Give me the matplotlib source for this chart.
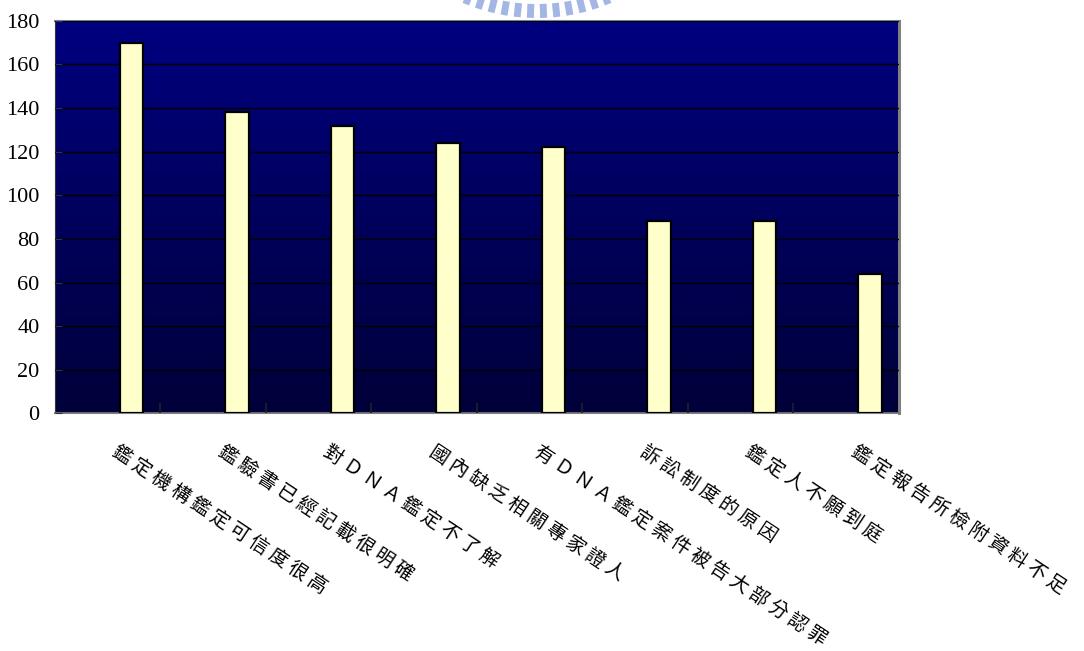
import numpy as np
import matplotlib
matplotlib.use("Agg")
import matplotlib.pyplot as plt
from matplotlib.colors import LinearSegmentedColormap
from matplotlib.transforms import blended_transform_factory
from matplotlib.lines import Line2D

categories = [
    "鑑定機構鑑定可信度很高",
    "鑑驗書已經記載很明確",
    "對ＤＮＡ鑑定不了解",
    "國內缺乏相關專家證人",
    "有ＤＮＡ鑑定案件被告大部分認罪",
    "訴訟制度的原因",
    "鑑定人不願到庭",
    "鑑定報告所檢附資料不足",
]
counts = [170, 138, 132, 124, 122, 88, 88, 64]
y_ticks = [0, 20, 40, 60, 80, 100, 120, 140, 160, 180]

fig = plt.figure(figsize=(10.84, 6.51), dpi=100)
ax = fig.add_axes([0.0507, 0.365, 0.7786, 0.603])

# gradient plot area: navy at top to dark at bottom
cmap = LinearSegmentedColormap.from_list("bg", ["#00003a", "#000080"])
grad = np.linspace(0, 1, 256).reshape(-1, 1)
ax.imshow(grad, cmap=cmap, origin="lower", aspect="auto",
          extent=[-0.5, 7.5, 0, 180], zorder=0)

x = np.arange(len(categories))
ax.bar(x + 0.225, counts, width=0.225, color="#ffffcc",
       edgecolor="black", linewidth=1.6, zorder=3)

ax.set_xlim(-0.5, 7.5)
ax.set_ylim(0, 180)
ax.set_yticks(y_ticks)
ax.set_yticklabels([str(v) for v in y_ticks], family="Liberation Serif", fontsize=16)
ax.yaxis.grid(True, color="black", linewidth=1.0, zorder=1)
ax.set_axisbelow(False)
ax.tick_params(axis="y", direction="in", length=5, color="#333333", pad=11)
ax.set_xticks([])
ax.set_xticks(np.arange(0.5, 7.5, 1), minor=True)
ax.tick_params(axis="x", which="minor", direction="in", length=7, color="#222222", width=1.2)

ax.spines["left"].set_color("#333344")
ax.spines["bottom"].set_color("#808080")
ax.spines["bottom"].set_linewidth(1.5)
ax.spines["top"].set_color("#7a7fa8")
ax.spines["top"].set_linewidth(1.5)
ax.spines["right"].set_color("#808080")
ax.spines["right"].set_linewidth(2.2)

trans = blended_transform_factory(ax.transData, ax.transAxes)
for i, label in enumerate(categories):
    ax.text(i + 0.12, -0.07, " ".join(label), transform=trans,
            rotation=-33.5, rotation_mode="anchor", ha="left", va="top",
            fontsize=13.8, family=["Noto Sans CJK TC", "DejaVu Sans"], color="black")

# faint logo watermark peeking in at top centre
cx, cy, r_in, r_out = 537, 651 + 172, 176, 190
for ang in np.arange(-22, 22.1, 4.0):
    a = np.deg2rad(270 + ang)
    xs = [cx + r_in * np.cos(a), cx + r_out * np.cos(a)]
    ys = [cy + r_in * np.sin(a), cy + r_out * np.sin(a)]
    fig.add_artist(Line2D(np.array(xs) / 1084, np.array(ys) / 651,
                          transform=fig.transFigure, color="#a4b6e4",
                          linewidth=5, solid_capstyle="butt"))

fig.savefig("out.png", dpi=100)
